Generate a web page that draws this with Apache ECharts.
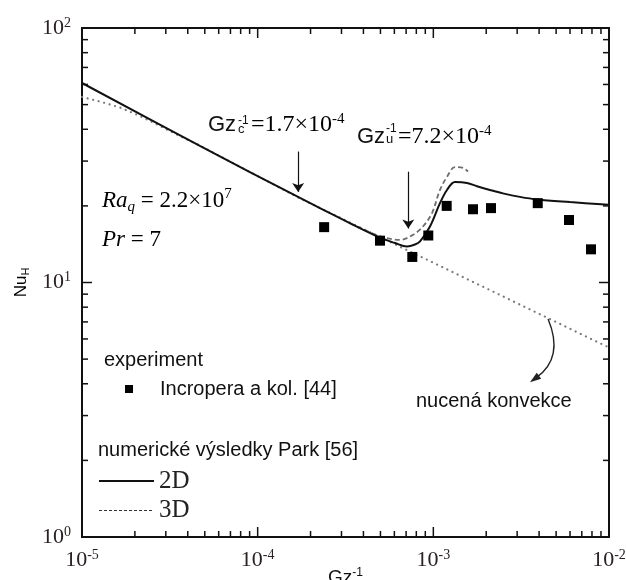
<!DOCTYPE html>
<html><head><meta charset="utf-8">
<script src="https://cdn.jsdelivr.net/npm/echarts@6/dist/echarts.min.js"></script>
<style>html,body{margin:0;padding:0;background:#fff}#c{width:626px;height:580px}</style>
</head><body><div id="c"></div>
<script>
// ---- data ----
const gzInv2D = [1e-5, 4.69e-5, 1.742e-4, 2.94e-4, 4.97e-4, 6.05e-4, 7.08e-4, 7.86e-4, 8.40e-4, 9.57e-4, 1.091e-3, 1.196e-3, 1.328e-3, 1.555e-3, 1.772e-3, 2.10e-3, 2.49e-3, 3.11e-3, 3.89e-3, 6.0e-3, 1e-2];
const nu2D    = [60.8, 34.4, 21.5, 17.9, 15.0, 14.3, 13.85, 14.1, 14.5, 16.6, 20.5, 23.1, 24.8, 24.6, 23.9, 23.1, 22.4, 21.7, 21.2, 20.7, 20.2];
const gzInv3D = [3.35e-4, 3.82e-4, 4.97e-4, 6.46e-4, 7.66e-4, 8.73e-4, 9.83e-4, 1.091e-3, 1.196e-3, 1.328e-3, 1.475e-3, 1.575e-3];
const nu3D    = [17.1, 16.4, 15.2, 14.7, 15.4, 16.6, 18.75, 23.1, 26.0, 28.4, 28.2, 27.3];
const gzInvForced = [1e-5, 1.266e-5, 1.645e-5, 2.139e-5, 2.78e-5, 3.612e-5, 4.69e-5, 1.742e-4, 1e-2];
const nuForced    = [53.6, 51.4, 48.7, 45.1, 41.2, 37.6, 34.5, 21.4, 5.55];
const gzInvExp = [2.39e-4, 4.97e-4, 7.59e-4, 9.36e-4, 1.191e-3, 1.682e-3, 2.129e-3, 3.93e-3, 5.92e-3, 7.90e-3];
const nuExp    = [16.5, 14.6, 12.6, 15.3, 20.0, 19.4, 19.6, 20.5, 17.6, 13.5];
const xDecadeTicks = [1e-5, 1e-4, 1e-3, 1e-2];
const yDecadeTicks = [1, 10, 100];
const gzC = 1.7e-4, gzU = 7.2e-4;
// curved pointer to the forced-convection line: [fromX, fromY, toX, toY]
const forcedPointer = [4.5e-3, 7.19, 3.55e-3, 4.06];

// ---- helpers ----
const SERIF = "'Liberation Serif','Times New Roman',serif";
const SANS = "'Liberation Sans',Arial,sans-serif";
const TXT = '#111';
const LBL = '#2a2222';
const pair = (xs, ys) => xs.map((x, i) => [x, ys[i]]);
const minorX = [], minorY = [];
xDecadeTicks.slice(0, -1).forEach(d => { for (let m = 2; m <= 9; m++) minorX.push(m * d); });
yDecadeTicks.slice(0, -1).forEach(d => { for (let m = 2; m <= 9; m++) minorY.push(m * d); });
const majorX = xDecadeTicks.slice(1, -1), majorY = yDecadeTicks.slice(1, -1);
const supFmt = v => '{b|10}{s|' + Math.round(Math.log10(v)) + '}';
const tickRich = {
  b: {fontFamily: SERIF, fontSize: 22, lineHeight: 24, color: LBL},
  s: {fontFamily: SERIF, fontSize: 14, lineHeight: 14, verticalAlign: 'top', color: LBL}
};
const tickStyle = {stroke: '#111', lineWidth: 1.5};
const tv = {verticalAlign: 'middle', textVerticalAlign: 'middle'};

const chart = echarts.init(document.getElementById('c'));
chart.setOption({
  animation: false,
  backgroundColor: '#fff',
  grid: {left: 82, right: 17, top: 28, bottom: 43, outerBoundsMode: 'none', containLabel: false,
         show: true, borderColor: '#111', borderWidth: 2, backgroundColor: 'transparent'},
  xAxis: {
    type: 'log', logBase: 10, min: 1e-5, max: 1e-2,
    axisLine: {show: false}, axisTick: {show: false}, splitLine: {show: false}, minorTick: {show: false},
    axisLabel: {formatter: supFmt, rich: tickRich, margin: 11, showMinLabel: true, showMaxLabel: true},
    name: '{a|Gz}{b|-1}', nameLocation: 'middle', nameGap: 30, nameMoveOverlap: false,
    nameTextStyle: {rich: {a: {fontFamily: SANS, fontSize: 19, lineHeight: 22, color: TXT}, b: {fontFamily: SANS, fontSize: 12, lineHeight: 12, verticalAlign: 'top', color: TXT}}}
  },
  yAxis: {
    type: 'log', logBase: 10, min: 1, max: 100,
    axisLine: {show: false}, axisTick: {show: false}, splitLine: {show: false}, minorTick: {show: false},
    axisLabel: {formatter: supFmt, rich: tickRich, margin: 11, showMinLabel: true, showMaxLabel: true},
    name: '{a|Nu}{b|H}', nameLocation: 'middle', nameGap: 50,
    nameTextStyle: {rich: {a: {fontFamily: SANS, fontSize: 17, lineHeight: 20, color: '#000'}, b: {fontFamily: SANS, fontSize: 11, lineHeight: 11, verticalAlign: 'bottom', color: '#000'}}}
  },
  legend: [
    {
      data: [{name: 'Incropera a kol. [44]', icon: 'rect', itemStyle: {color: '#000', opacity: 1}}],
      left: 125, top: 379, padding: 0, itemWidth: 8, itemHeight: 8,
      selectedMode: false, textStyle: {fontFamily: SANS, fontSize: 20, lineHeight: 20, color: TXT, padding: [0, 0, 0, 22]}
    },
    {
      data: [
        {name: '2D', lineStyle: {color: '#111', width: 2}},
        {name: '3D', lineStyle: {type: [3, 2], color: '#333', width: 1.2}}
      ],
      orient: 'vertical', left: 98, top: 468, padding: 0, itemWidth: 55, itemHeight: 14, itemGap: 3.5,
      itemStyle: {opacity: 0, borderWidth: 0},
      selectedMode: false, textStyle: {fontFamily: SERIF, fontSize: 25, lineHeight: 26, color: '#222'}
    }
  ],
  series: [
    {
      name: 'forced', type: 'line', data: pair(gzInvForced, nuForced), showSymbol: false, symbol: 'none',
      smooth: false, lineStyle: {color: '#7a7a7a', width: 2.2, type: [0.1, 5.6], cap: 'round'}, z: 2, silent: true
    },
    {
      name: '3D', type: 'line', data: pair(gzInv3D, nu3D), showSymbol: false, symbol: 'none',
      smooth: 0.35, lineStyle: {color: '#6e6e6e', width: 1.8, type: [5, 3]}, z: 3, silent: true
    },
    {
      name: '2D', type: 'line', data: pair(gzInv2D, nu2D), showSymbol: false, symbol: 'none',
      smooth: 0.35, lineStyle: {color: '#111', width: 2}, itemStyle: {color: '#111'}, z: 4, silent: true,
      markLine: {
        silent: true, symbol: ['none', 'arrow'], symbolSize: 9, label: {show: false},
        lineStyle: {color: '#111', width: 1.2, type: 'solid'},
        data: [
          [{coord: [gzC, 32.7]}, {coord: [gzC, 22.7]}],
          [{coord: [gzU, 27.25]}, {coord: [gzU, 16.3]}]
        ]
      }
    },
    {
      name: 'Incropera a kol. [44]', type: 'scatter', data: pair(gzInvExp, nuExp),
      symbol: 'rect', symbolSize: 10, itemStyle: {color: '#000', opacity: 1}, z: 6, silent: true
    },
    {
      name: 'pointer', type: 'custom', coordinateSystem: 'cartesian2d', silent: true, clip: false, z: 5,
      encode: {x: [0, 2], y: [1, 3]},
      data: [forcedPointer],
      renderItem: (params, api) => {
        const p1 = api.coord([api.value(0), api.value(1)]);
        const p2 = api.coord([api.value(2), api.value(3)]);
        const c = 0.4;
        const cp = [(p1[0] + p2[0]) / 2 + (p2[1] - p1[1]) * c, (p1[1] + p2[1]) / 2 - (p2[0] - p1[0]) * c];
        let dx = p2[0] - cp[0], dy = p2[1] - cp[1];
        const len = Math.hypot(dx, dy); dx /= len; dy /= len;
        const hl = 11, hw = 3.8;
        const base = [p2[0] - dx * hl, p2[1] - dy * hl];
        const lineEnd = [p2[0] - dx * hl * 0.7, p2[1] - dy * hl * 0.7];
        return {type: 'group', children: [
          {type: 'bezierCurve', shape: {x1: p1[0], y1: p1[1], x2: lineEnd[0], y2: lineEnd[1], cpx1: cp[0], cpy1: cp[1]},
           style: {stroke: '#222', lineWidth: 1.4, fill: null}},
          {type: 'polygon', shape: {points: [p2, [base[0] - dy * hw, base[1] + dx * hw], [base[0] + dy * hw, base[1] - dx * hw]]},
           style: {fill: '#222', stroke: null}}
        ]};
      }
    },
    {
      name: 'xticks', type: 'custom', coordinateSystem: 'cartesian2d', silent: true, clip: false, z: 7,
      data: minorX.map(v => [v, 1, 6]).concat(majorX.map(v => [v, 1, 10])),
      renderItem: (params, api) => {
        const v = api.value(0), L = api.value(2);
        const b = api.coord([v, 1]), t = api.coord([v, 100]);
        return {type: 'group', children: [
          {type: 'line', shape: {x1: b[0], y1: b[1], x2: b[0], y2: b[1] - L}, style: tickStyle},
          {type: 'line', shape: {x1: t[0], y1: t[1], x2: t[0], y2: t[1] + L}, style: tickStyle}
        ]};
      }
    },
    {
      name: 'yticks', type: 'custom', coordinateSystem: 'cartesian2d', silent: true, clip: false, z: 7,
      data: minorY.map(v => [1e-5, v, 6]).concat(majorY.map(v => [1e-5, v, 10])),
      renderItem: (params, api) => {
        const v = api.value(1), L = api.value(2);
        const l = api.coord([1e-5, v]), r = api.coord([1e-2, v]);
        return {type: 'group', children: [
          {type: 'line', shape: {x1: l[0], y1: l[1], x2: l[0] + L, y2: l[1]}, style: tickStyle},
          {type: 'line', shape: {x1: r[0], y1: r[1], x2: r[0] - L, y2: r[1]}, style: tickStyle}
        ]};
      }
    }
  ],
  graphic: [
    // Gz_c^-1 = 1.7x10^-4
    {type: 'text', x: 208, y: 124.5, silent: true, style: Object.assign({text: 'Gz', font: '22px ' + SANS, fill: TXT}, tv)},
    {type: 'text', x: 238, y: 129.5, silent: true, style: Object.assign({text: 'c', font: '13px ' + SANS, fill: TXT}, tv)},
    {type: 'text', x: 238, y: 120.5, silent: true, style: Object.assign({text: '-1', font: '12px ' + SANS, fill: TXT}, tv)},
    {type: 'text', x: 251, y: 124.5, silent: true, style: Object.assign({text: '{m|=1.7×10}{s|-4}',
      rich: {m: {fontFamily: SERIF, fontSize: 24, lineHeight: 26, color: TXT}, s: {fontFamily: SERIF, fontSize: 15, lineHeight: 15, verticalAlign: 'top', color: TXT}}}, tv)},
    // Gz_u^-1 = 7.2x10^-4
    {type: 'text', x: 357, y: 137, silent: true, style: Object.assign({text: 'Gz', font: '22px ' + SANS, fill: TXT}, tv)},
    {type: 'text', x: 386, y: 139, silent: true, style: Object.assign({text: 'u', font: '13px ' + SANS, fill: TXT}, tv)},
    {type: 'text', x: 386, y: 128.5, silent: true, style: Object.assign({text: '-1', font: '12px ' + SANS, fill: TXT}, tv)},
    {type: 'text', x: 398, y: 137, silent: true, style: Object.assign({text: '{m|=7.2×10}{s|-4}',
      rich: {m: {fontFamily: SERIF, fontSize: 24, lineHeight: 26, color: TXT}, s: {fontFamily: SERIF, fontSize: 15, lineHeight: 15, verticalAlign: 'top', color: TXT}}}, tv)},
    // Ra_q, Pr
    {type: 'text', x: 102, y: 201, silent: true, style: Object.assign({text: '{i|Ra}{q|q}{r| = 2.2×10}{s|7}',
      rich: {i: {fontFamily: SERIF, fontStyle: 'italic', fontSize: 23, lineHeight: 28, color: '#222'},
             q: {fontFamily: SERIF, fontStyle: 'italic', fontSize: 15, lineHeight: 15, verticalAlign: 'bottom', color: '#222'},
             r: {fontFamily: SERIF, fontSize: 23, lineHeight: 28, color: '#222'},
             s: {fontFamily: SERIF, fontSize: 15, lineHeight: 15, verticalAlign: 'top', color: '#222'}}}, tv)},
    {type: 'text', x: 102, y: 239.5, silent: true, style: Object.assign({text: '{i|Pr}{r| = 7}',
      rich: {i: {fontFamily: SERIF, fontStyle: 'italic', fontSize: 23, lineHeight: 28, color: '#222'},
             r: {fontFamily: SERIF, fontSize: 23, lineHeight: 28, color: '#222'}}}, tv)},
    // legend headers / annotation
    {type: 'text', x: 104, y: 360, silent: true, style: Object.assign({text: 'experiment', font: '20px ' + SANS, fill: TXT}, tv)},
    {type: 'text', x: 98, y: 450, silent: true, style: Object.assign({text: 'numerické výsledky Park [56]', font: '20px ' + SANS, fill: TXT}, tv)},
    {type: 'text', x: 416, y: 401, silent: true, style: Object.assign({text: 'nucená konvekce', font: '20px ' + SANS, fill: TXT}, tv)}
  ]
});
</script>
</body></html>
